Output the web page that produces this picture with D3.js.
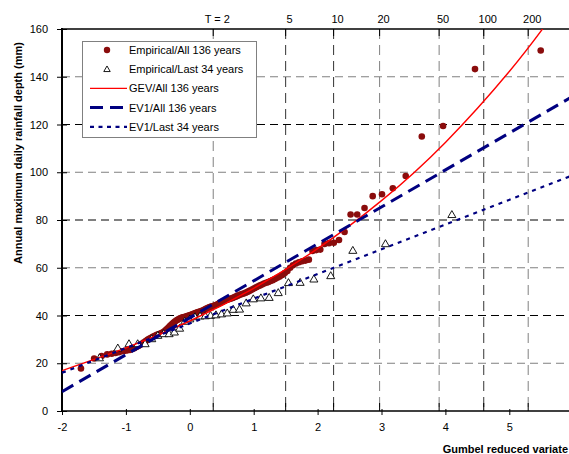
<!DOCTYPE html>
<html><head><meta charset="utf-8">
<script src="https://cdn.jsdelivr.net/npm/d3@7"></script>
<style>body{margin:0;background:#fff} svg{display:block} text{font-family:"Liberation Sans",Arial,sans-serif;}</style>
</head><body><svg id="c" width="569" height="454"></svg>
<script>
// ---------- data ----------
const xTicks = [-2, -1, 0, 1, 2, 3, 4, 5];
const yTicks = [0, 20, 40, 60, 80, 100, 120, 140, 160];
const returnPeriodLabels = ["T = 2", "5", "10", "20", "50", "100", "200"];
const returnPeriodVariates = [0.3665, 1.4999, 2.2504, 2.9702, 3.9019, 4.6001, 5.2958];

// Empirical, all 136 years (Gumbel reduced variate, depth mm)
const allX = [-1.7035,-1.4971,-1.3796,-1.2930,-1.2226,-1.1625,-1.1094,-1.0615,-1.0175,-0.9768,-0.9386,-0.9026,-0.8684,-0.8357,-0.8044,-0.7742,-0.7450,-0.7168,-0.6894,-0.6627,-0.6366,-0.6112,-0.5863,-0.5619,-0.5379,-0.5143,-0.4911,-0.4682,-0.4457,-0.4234,-0.4014,-0.3795,-0.3580,-0.3367,-0.3155,-0.2945,-0.2736,-0.2527,-0.2321,-0.2116,-0.1911,-0.1709,-0.1506,-0.1304,-0.1103,-0.0902,-0.0702,-0.0502,-0.0302,-0.0102,0.0096,0.0296,0.0496,0.0697,0.0897,0.1098,0.1299,0.1500,0.1702,0.1905,0.2108,0.2313,0.2518,0.2724,0.2931,0.3139,0.3349,0.3560,
  0.3772,0.3985,0.4200,0.4416,0.4634,0.4854,0.5076,0.5300,0.5526,0.5754,0.5984,0.6217,0.6452,0.6690,0.6931,0.7175,0.7422,0.7672,0.7926,0.8183,0.8443,0.8708,0.8977,0.9250,0.9528,0.9810,1.0098,1.0391,1.0689,1.0994,1.1305,1.1623,1.1948,1.2280,1.2620,1.2969,1.3326,1.3694,1.4072,1.4461,1.4862,1.5276,1.5703,1.6146,1.6605,1.7081,1.7577,1.8094,1.8628,1.9195,1.9791,2.0420,2.1082,2.1790,2.2542,2.3349,2.4219,2.5163,2.6197,2.7342,2.8622,3.0079,3.1772,3.3791,3.6306,3.9641,4.4632,5.4915];
const allY = [17.8,22.0,23.0,23.7,24.0,24.3,24.6,25.0,25.2,25.4,25.6,26.0,26.3,26.8,27.2,27.7,28.2,28.8,29.3,29.8,30.2,30.6,31.0,31.3,31.6,31.9,32.1,32.3,32.6,32.9,33.3,33.8,34.3,34.9,35.5,36.0,36.5,37.0,37.5,37.9,38.2,38.5,38.8,39.0,39.2,39.4,39.5,39.7,39.9,40.0,40.2,40.4,40.6,40.8,41.0,41.2,41.4,41.6,41.8,42.0,42.2,42.5,42.8,43.0,43.3,43.5,43.7,43.9,
  44.1,44.3,44.5,44.8,45.1,45.4,45.7,46.0,46.3,46.5,46.7,46.9,47.1,47.3,47.6,47.9,48.2,48.5,48.8,49.0,49.2,49.5,49.8,50.2,50.6,51.0,51.4,51.8,52.2,52.6,53.0,53.4,53.7,54.0,54.4,54.8,55.3,55.8,56.3,57.0,57.8,58.6,60.0,61.0,61.8,62.3,62.7,63.0,63.4,67.0,67.4,67.6,70.0,70.3,70.5,71.6,75.0,82.3,82.3,85.0,90.0,90.8,93.3,98.4,115.0,119.4,143.2,151.0];

// Empirical, last 34 years
const lastX = [-1.4134,-1.1266,-0.9516,-0.8154,-0.6994,-0.5957,-0.5002,-0.4102,-0.3241,-0.2408,-0.1594,-0.0791,0.0006,0.0804,0.1606,0.2418,0.3245,0.4092,0.4963,0.5863,0.6802,0.7785,0.8827,0.9935,1.1123,1.2418,1.3843,1.5441,1.7266,1.9415,2.2054,2.5513,3.0620,4.1013];
const lastY = [22.0,26.1,27.9,27.9,27.9,30.0,31.4,32.1,32.1,32.8,34.4,37.3,38.3,39.2,39.5,39.6,39.8,40.0,40.4,40.8,42.3,42.4,45.0,46.7,47.1,47.3,49.3,53.5,53.6,55.0,56.4,67.0,69.8,82.0];

// Fitted curves
const gevX = [-2, -1, 0, 1, 2, 3, 4, 5, 5.6];
const gevY = [16.9, 26.4, 37.7, 51.4, 68.0, 88.1, 112.5, 142.2, 162.9];
const ev1AllX = [-2, 6];
const ev1AllY = [8.1, 131.9];
const ev1LastX = [-2, 6];
const ev1LastY = [16.0, 98.8];

const legendLabels = ["Empirical/All 136 years", "Empirical/Last 34 years", "GEV/All 136 years", "EV1/All 136 years", "EV1/Last 34 years"];
const xTitle = "Gumbel reduced variate";
const yTitle = "Annual maximum daily rainfall depth (mm)";

// ---------- drawing ----------
const svg = d3.select("#c");
const W = 569;
const x = d3.scaleLinear().domain([-2, 6]).range([62, 573.2]);
const y = d3.scaleLinear().domain([0, 160]).range([411, 29]);
const FONT = 11;
const FAM = '"Liberation Sans",Arial,sans-serif';

svg.append("defs").append("clipPath").attr("id", "plot")
  .append("rect").attr("x", x(-2)).attr("y", y(160)).attr("width", W - x(-2)).attr("height", y(0) - y(160));

// horizontal grid
const grid = svg.append("g");
grid.selectAll("line.h").data(yTicks.filter(v => v > 0 && v < 160)).join("line")
  .attr("x1", x(-2)).attr("x2", W).attr("y1", d => y(d)).attr("y2", d => y(d))
  .attr("stroke", d => d % 40 === 0 ? "#000" : "#808080")
  .attr("stroke-width", 1).attr("stroke-dasharray", "8,5");

// vertical return-period grid
const darkT = new Set(["5", "10", "100"]);
grid.selectAll("line.v").data(returnPeriodVariates).join("line")
  .attr("x1", d => x(d)).attr("x2", d => x(d)).attr("y1", y(160)).attr("y2", y(0))
  .attr("stroke", (d, i) => darkT.has(returnPeriodLabels[i]) ? "#333" : "#808080")
  .attr("stroke-width", 1).attr("stroke-dasharray", "10,6");

// return period ticks top and bottom
svg.append("g").selectAll("line").data(returnPeriodVariates).join("line")
  .attr("x1", d => x(d)).attr("x2", d => x(d)).attr("y1", y(160)).attr("y2", y(160) + 7)
  .attr("stroke", "#000");
svg.append("g").selectAll("line").data(returnPeriodVariates).join("line")
  .attr("x1", d => x(d)).attr("x2", d => x(d)).attr("y1", y(0) - 8).attr("y2", y(0))
  .attr("stroke", "#000");

// return period labels
svg.append("g").selectAll("text").data(returnPeriodVariates).join("text")
  .attr("x", d => x(d) + 4).attr("y", 23)
  .attr("text-anchor", "middle").attr("font-size", FONT).attr("fill", "#000")
  .text((d, i) => returnPeriodLabels[i]);

// axes
const yAxis = svg.append("g").attr("transform", `translate(${x(-2)},0)`)
  .call(d3.axisLeft(y).tickValues(yTicks).tickFormat(d => String(d)).tickSizeInner(5).tickSizeOuter(0).tickPadding(9));
yAxis.select(".domain").remove();
yAxis.selectAll(".tick line").attr("x1", 5).attr("x2", -5).attr("stroke", "#000");
yAxis.selectAll(".tick text").attr("font-size", FONT).attr("font-family", FAM).attr("fill", "#000");

const xAxis = svg.append("g").attr("transform", `translate(0,${y(0)})`)
  .call(d3.axisBottom(x).tickValues(xTicks).tickFormat(d => String(d)).tickSizeInner(4).tickSizeOuter(0));
xAxis.select(".domain").remove();
xAxis.selectAll(".tick line").attr("y1", -2).attr("y2", 4).attr("stroke", "#000");
xAxis.selectAll(".tick text").attr("font-size", FONT).attr("font-family", FAM)
  .attr("fill", "#000").attr("y", 20).attr("dy", 0);

// axis lines
svg.append("line").attr("x1", x(-2)).attr("x2", W).attr("y1", y(0)).attr("y2", y(0)).attr("stroke", "#000").attr("stroke-width", 1.3);
svg.append("line").attr("x1", x(-2)).attr("x2", W).attr("y1", y(160)).attr("y2", y(160)).attr("stroke", "#000").attr("stroke-width", 1.6);
svg.append("line").attr("x1", x(-2)).attr("x2", x(-2)).attr("y1", y(160) - 1).attr("y2", y(0) + 1).attr("stroke", "#000").attr("stroke-width", 2);

// series
const plot = svg.append("g").attr("clip-path", "url(#plot)");
const allPts = allX.map((v, i) => [v, allY[i]]);
const lastPts = lastX.map((v, i) => [v, lastY[i]]);
const RED = "#8a0c0c";

plot.append("g").selectAll("circle").data(allPts).join("circle")
  .attr("cx", d => x(d[0])).attr("cy", d => y(d[1])).attr("r", 3.3).attr("fill", RED);

const tri = d3.symbol().type(d3.symbolTriangle).size(28);
plot.append("g").selectAll("path").data(lastPts).join("path")
  .attr("d", tri).attr("transform", d => `translate(${x(d[0])},${y(d[1])})`)
  .attr("fill", "#fff").attr("stroke", "#000").attr("stroke-width", 0.9);

const line = d3.line().x(d => x(d[0])).y(d => y(d[1]));
plot.append("path").datum(gevX.map((v, i) => [v, gevY[i]]))
  .attr("d", line.curve(d3.curveNatural)).attr("fill", "none").attr("stroke", "#ff0000").attr("stroke-width", 1.4);
const straight = d3.line().x(d => x(d[0])).y(d => y(d[1]));
plot.append("path").datum(ev1AllX.map((v, i) => [v, ev1AllY[i]]))
  .attr("d", straight).attr("fill", "none").attr("stroke", "#000080").attr("stroke-width", 3).attr("stroke-dasharray", "13,7");
plot.append("path").datum(ev1LastX.map((v, i) => [v, ev1LastY[i]]))
  .attr("d", straight).attr("fill", "none").attr("stroke", "#000080").attr("stroke-width", 2.2).attr("stroke-dasharray", "4,5");

// legend
const lg = svg.append("g");
lg.append("rect").attr("x", 82.5).attr("y", 41.5).attr("width", 174).attr("height", 96)
  .attr("fill", "#fff").attr("stroke", "#808080").attr("stroke-width", 1);
const rowY = i => 50 + i * 19.2;
lg.append("circle").attr("cx", 107).attr("cy", rowY(0)).attr("r", 3.2).attr("fill", RED);
lg.append("path").attr("d", d3.symbol().type(d3.symbolTriangle).size(18)).attr("transform", `translate(107,${rowY(1) + 0.5})`)
  .attr("fill", "#fff").attr("stroke", "#000").attr("stroke-width", 0.9);
lg.append("line").attr("x1", 90).attr("x2", 127).attr("y1", rowY(2)).attr("y2", rowY(2)).attr("stroke", "#ff0000").attr("stroke-width", 1.4);
lg.append("line").attr("x1", 90).attr("x2", 127).attr("y1", rowY(3)).attr("y2", rowY(3)).attr("stroke", "#000080").attr("stroke-width", 3).attr("stroke-dasharray", "13,7");
lg.append("line").attr("x1", 90).attr("x2", 127).attr("y1", rowY(4)).attr("y2", rowY(4)).attr("stroke", "#000080").attr("stroke-width", 2.2).attr("stroke-dasharray", "4,4.5");
lg.selectAll("text").data(legendLabels).join("text")
  .attr("x", 129).attr("y", (d, i) => rowY(i) + 4).attr("font-size", FONT).attr("fill", "#000").text(d => d);

// titles
svg.append("text").attr("x", 568).attr("y", 453).attr("text-anchor", "end")
  .attr("font-size", FONT).attr("font-weight", "bold").attr("fill", "#000").text(xTitle);
svg.append("text").attr("transform", "translate(22,153) rotate(-90)").attr("text-anchor", "middle")
  .attr("font-size", FONT).attr("font-weight", "bold").attr("fill", "#000").text(yTitle);
</script>
</body></html>
